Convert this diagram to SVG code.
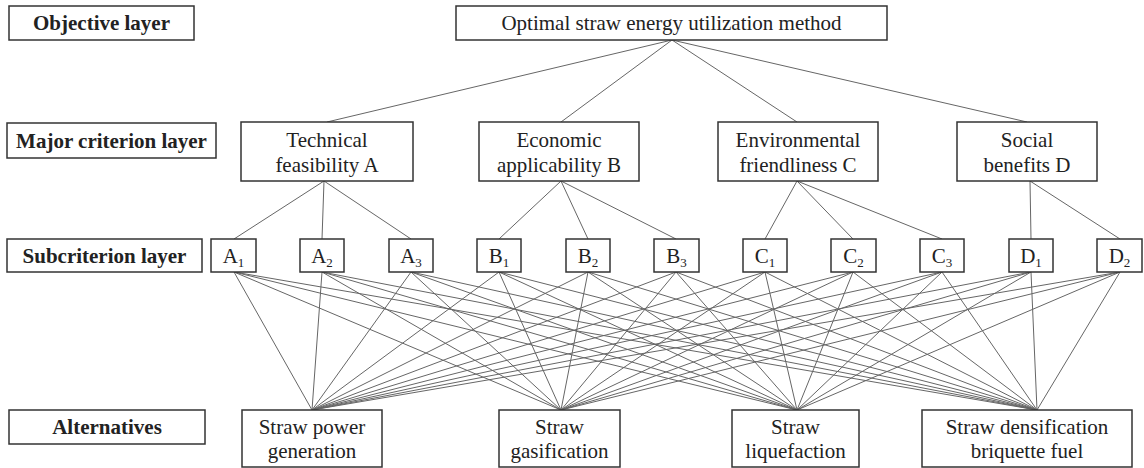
<svg xmlns="http://www.w3.org/2000/svg" width="1144" height="468" viewBox="0 0 1144 468">
<style>
.box{fill:#fff;stroke:#333;stroke-width:1.5}
.t{font-family:"Liberation Serif","DejaVu Serif",serif;font-size:21px;fill:#222;text-anchor:middle}
.b{font-weight:bold}
.sub{font-size:13px}
.ln{stroke:#666;stroke-width:1;fill:none}
</style>
<rect width="1144" height="468" fill="#fff"/>
<g id="connectors" class="ln">
<path d="M672 40L327 122M672 40L561 122M672 40L797 122M672 40L1027 122"/>
<path d="M324 181L234 239M324 181L322 239M324 181L411 239"/>
<path d="M561 181L499 239M561 181L588 239M561 181L676 239"/>
<path d="M797 181L765 239M797 181L853 239M797 181L942 239"/>
<path d="M1030 181L1031 239M1030 181L1120 239"/>
<path d="M234 272L312 410M234 272L561 410M234 272L797 410M234 272L1037 410"/>
<path d="M322 272L312 410M322 272L561 410M322 272L797 410M322 272L1037 410"/>
<path d="M411 272L312 410M411 272L561 410M411 272L797 410M411 272L1037 410"/>
<path d="M499 272L312 410M499 272L561 410M499 272L797 410M499 272L1037 410"/>
<path d="M588 272L312 410M588 272L561 410M588 272L797 410M588 272L1037 410"/>
<path d="M676 272L312 410M676 272L561 410M676 272L797 410M676 272L1037 410"/>
<path d="M765 272L312 410M765 272L561 410M765 272L797 410M765 272L1037 410"/>
<path d="M853 272L312 410M853 272L561 410M853 272L797 410M853 272L1037 410"/>
<path d="M942 272L312 410M942 272L561 410M942 272L797 410M942 272L1037 410"/>
<path d="M1031 272L312 410M1031 272L561 410M1031 272L797 410M1031 272L1037 410"/>
<path d="M1120 272L312 410M1120 272L561 410M1120 272L797 410M1120 272L1037 410"/>
</g>
<g id="objective-label"><rect class="box" x="9" y="6" width="185" height="34"/><text class="t b" x="101.5" y="30">Objective layer</text></g>
<g id="goal"><rect class="box" x="456" y="6" width="431" height="34"/><text class="t" x="671.5" y="30">Optimal straw energy utilization method</text></g>
<g id="major-label"><rect class="box" x="7" y="123" width="209" height="35"/><text class="t b" x="111.5" y="148">Major criterion layer</text></g>
<g id="A"><rect class="box" x="241" y="122" width="172" height="59"/><text class="t" x="327" y="147">Technical</text><text class="t" x="327" y="172">feasibility A</text></g>
<g id="B"><rect class="box" x="479" y="122" width="160" height="59"/><text class="t" x="559" y="147">Economic</text><text class="t" x="559" y="172">applicability  B</text></g>
<g id="C"><rect class="box" x="718" y="122" width="160" height="59"/><text class="t" x="798" y="147">Environmental</text><text class="t" x="798" y="172">friendliness C</text></g>
<g id="D"><rect class="box" x="957" y="122" width="140" height="59"/><text class="t" x="1027" y="147">Social</text><text class="t" x="1027" y="172">benefits D</text></g>
<g id="sub-label"><rect class="box" x="7" y="239" width="195" height="33"/><text class="t b" x="104.5" y="263">Subcriterion layer</text></g>
<g id="A1"><rect class="box" x="211" y="239" width="45" height="33"/><text class="t" x="233.5" y="263">A<tspan class="sub" dy="4">1</tspan></text></g>
<g id="A2"><rect class="box" x="300" y="239" width="44" height="33"/><text class="t" x="322" y="263">A<tspan class="sub" dy="4">2</tspan></text></g>
<g id="A3"><rect class="box" x="389" y="239" width="44" height="33"/><text class="t" x="411" y="263">A<tspan class="sub" dy="4">3</tspan></text></g>
<g id="B1"><rect class="box" x="477" y="239" width="44" height="33"/><text class="t" x="499" y="263">B<tspan class="sub" dy="4">1</tspan></text></g>
<g id="B2"><rect class="box" x="566" y="239" width="44" height="33"/><text class="t" x="588" y="263">B<tspan class="sub" dy="4">2</tspan></text></g>
<g id="B3"><rect class="box" x="654" y="239" width="45" height="33"/><text class="t" x="676.5" y="263">B<tspan class="sub" dy="4">3</tspan></text></g>
<g id="C1"><rect class="box" x="743" y="239" width="44" height="33"/><text class="t" x="765" y="263">C<tspan class="sub" dy="4">1</tspan></text></g>
<g id="C2"><rect class="box" x="831" y="239" width="45" height="33"/><text class="t" x="853.5" y="263">C<tspan class="sub" dy="4">2</tspan></text></g>
<g id="C3"><rect class="box" x="920" y="239" width="44" height="33"/><text class="t" x="942" y="263">C<tspan class="sub" dy="4">3</tspan></text></g>
<g id="D1"><rect class="box" x="1009" y="239" width="44" height="33"/><text class="t" x="1031" y="263">D<tspan class="sub" dy="4">1</tspan></text></g>
<g id="D2"><rect class="box" x="1097" y="239" width="45" height="33"/><text class="t" x="1119.5" y="263">D<tspan class="sub" dy="4">2</tspan></text></g>
<g id="alt-label"><rect class="box" x="9" y="410" width="196" height="34"/><text class="t b" x="107" y="434">Alternatives</text></g>
<g id="alt1"><rect class="box" x="242" y="410" width="140" height="57"/><text class="t" x="312" y="434">Straw power</text><text class="t" x="312" y="458">generation</text></g>
<g id="alt2"><rect class="box" x="499" y="410" width="121" height="57"/><text class="t" x="559.5" y="434">Straw</text><text class="t" x="559.5" y="458">gasification</text></g>
<g id="alt3"><rect class="box" x="732" y="410" width="127" height="57"/><text class="t" x="795.5" y="434">Straw</text><text class="t" x="795.5" y="458">liquefaction</text></g>
<g id="alt4"><rect class="box" x="922" y="410" width="210" height="57"/><text class="t" x="1027" y="434">Straw densification</text><text class="t" x="1027" y="458">briquette fuel</text></g>
</svg>
